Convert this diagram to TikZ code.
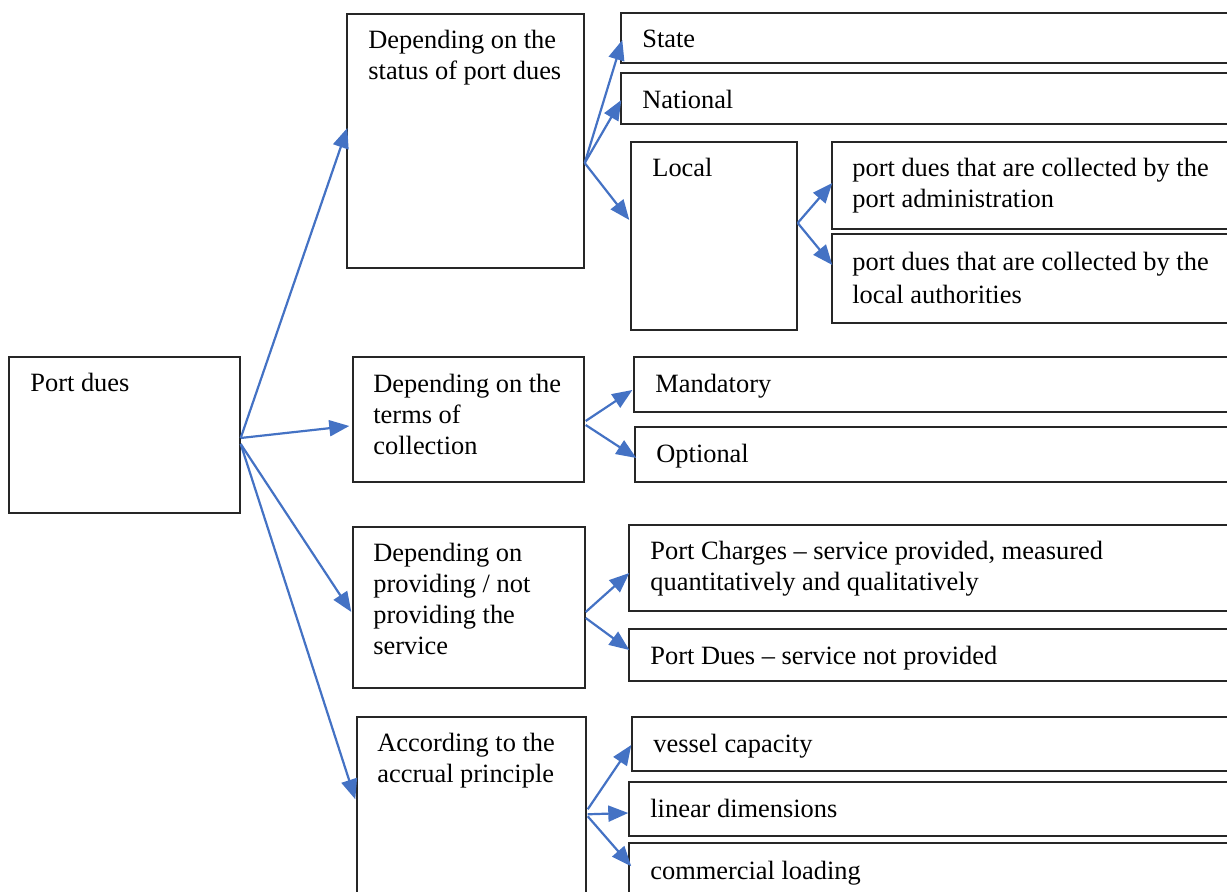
\documentclass[tikz,border=0pt]{standalone}
\usepackage{fontspec}
\setmainfont{Liberation Serif}
\usetikzlibrary{fit,arrows.meta}
\definecolor{arrblue}{HTML}{4472C4}
\newcommand\mylines[1]{\begin{tabular}[t]{@{}l@{}}#1\end{tabular}}
\tikzset{
  box/.style={draw=black!85, line width=0.7pt, inner sep=0pt, rectangle},
  txt/.style={anchor=base west, inner sep=0pt, font=\fontsize{13.2}{15.5}\selectfont},
  arr/.style={draw=arrblue, line width=1.1pt, -{Triangle[length=10pt,width=8pt]}}
}
\begin{document}
\begin{tikzpicture}[x=0.5pt,y=-0.5pt]
\useasboundingbox (0,0) rectangle (1227,892);
\clip (0,0) rectangle (1227,892);
% boxes
\node[box, fit={(9,357) (240,513)}] (pd) {};
\node[box, fit={(347,14) (584,268)}] (s1) {};
\node[box, fit={(621,13) (1240,63)}] (state) {};
\node[box, fit={(621,73) (1240,124)}] (nat) {};
\node[box, fit={(631,142) (797,330)}] (loc) {};
\node[box, fit={(832,142) (1240,229)}] (padm) {};
\node[box, fit={(832,234) (1240,323)}] (lauth) {};
\node[box, fit={(353,357) (584,482)}] (s2) {};
\node[box, fit={(634,357) (1240,412)}] (mand) {};
\node[box, fit={(635,427) (1240,482)}] (opt) {};
\node[box, fit={(353,527) (585,688)}] (s3) {};
\node[box, fit={(629,525) (1240,611)}] (pch) {};
\node[box, fit={(629,629) (1240,681)}] (pdu) {};
\node[box, fit={(357,717) (586,950)}] (s4) {};
\node[box, fit={(632,717) (1240,771)}] (ves) {};
\node[box, fit={(629,782) (1240,836)}] (lin) {};
\node[box, fit={(629,843) (1240,950)}] (com) {};
% texts
\node[txt] (tpd) at (30,392) {Port dues};
\node[txt] (ts1) at (368,49) {\mylines{Depending on the\\status of port dues}};
\node[txt] (tstate) at (642,48) {State};
\node[txt] (tnat) at (642,109) {National};
\node[txt] (tloc) at (652,177) {Local};
\node[txt] (tpadm) at (852,177) {\mylines{port dues that are collected by the\\port administration}};
\node[txt] (tlauth) at (852,271) {\mylines{port dues that are collected by the\\[1pt]local authorities}};
\node[txt] (ts2) at (373,393) {\mylines{Depending on the\\terms of\\collection}};
\node[txt] (tmand) at (655,393) {Mandatory};
\node[txt] (topt) at (656,463) {Optional};
\node[txt] (ts3) at (373,562) {\mylines{Depending on\\providing / not\\providing the\\service}};
\node[txt] (tpch) at (650,560) {\mylines{Port Charges -- service provided, measured\\quantitatively and qualitatively}};
\node[txt] (tpdu) at (650,665) {Port Dues -- service not provided};
\node[txt] (ts4) at (377,752) {\mylines{According to the\\accrual principle}};
\node[txt] (tves) at (653,753) {vessel capacity};
\node[txt] (tlin) at (650,818) {linear dimensions};
\node[txt] (tcom) at (650,879) {commercial loading};
% connectors
\draw[arr] ([shift={(0,3)}]pd.east) -- ([shift={(1,-13)}]s1.west);
\draw[arr] ([shift={(0,3)}]pd.east) -- ([shift={(-3,6.5)}]s2.west);
\draw[arr] ([shift={(0,9)}]pd.east) -- ([shift={(-1,4.5)}]s3.west);
\draw[arr] ([shift={(0,9)}]pd.east) -- ([shift={(-1,83)}]s4.north west);
\draw[arr] ([shift={(0,22)}]s1.east) -- ([shift={(2,2)}]state.west);
\draw[arr] ([shift={(0,22)}]s1.east) -- ([shift={(1,1.5)}]nat.west);
\draw[arr] ([shift={(0,22)}]s1.east) -- ([shift={(-1,-16)}]loc.west);
\draw[arr] ([shift={(0,-13)}]loc.east) -- ([shift={(1,-2.5)}]padm.west);
\draw[arr] ([shift={(0,-13)}]loc.east) -- ([shift={(1,-13.5)}]lauth.west);
\draw[arr] ([shift={(1,1.5)}]s2.east) -- ([shift={(-1,5.5)}]mand.west);
\draw[arr] ([shift={(1,5.5)}]s2.east) -- ([shift={(2,3.5)}]opt.west);
\draw[arr] ([shift={(0,4.5)}]s3.east) -- ([shift={(1,5)}]pch.west);
\draw[arr] ([shift={(0,10.5)}]s3.east) -- ([shift={(1,-5)}]pdu.west);
\draw[arr] ([shift={(1,93)}]s4.north east) -- ([shift={(0,1)}]ves.west);
\draw[arr] ([shift={(1,98)}]s4.north east) -- ([shift={(0,4)}]lin.west);
\draw[arr] ([shift={(1,100)}]s4.north east) -- ([shift={(3,24)}]com.north west);
\end{tikzpicture}
\end{document}
